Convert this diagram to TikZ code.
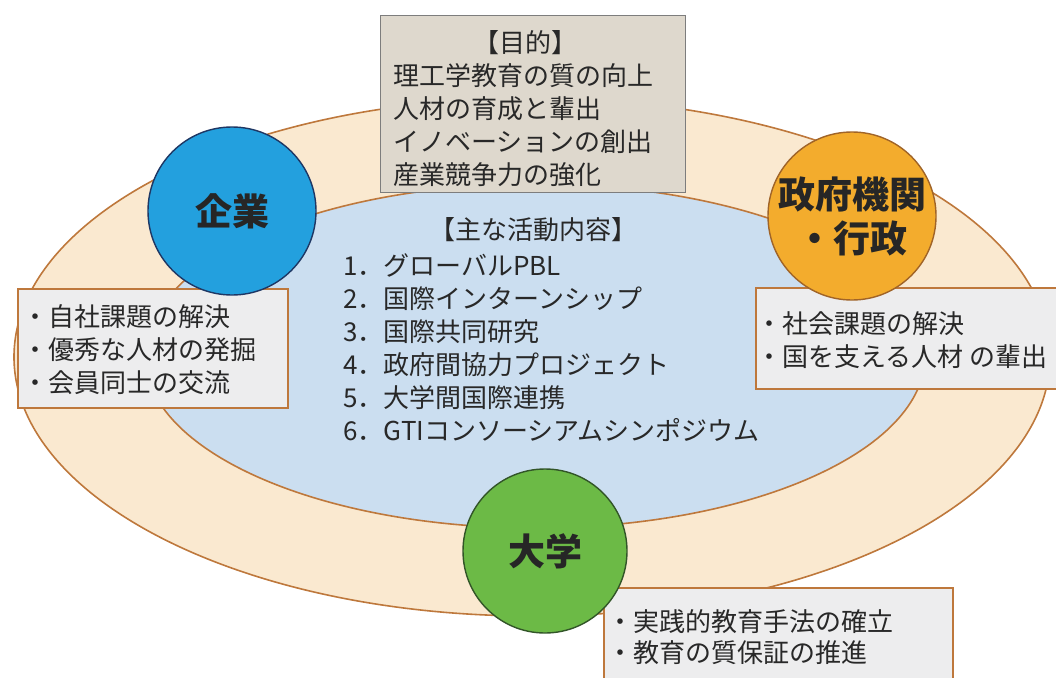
\documentclass[tikz,border=0pt]{standalone}
\usepackage{fontspec}
\setmainfont{Noto Sans CJK JP}
\usetikzlibrary{shapes.geometric}
\definecolor{ringfill}{RGB}{250,233,208}
\definecolor{ringline}{RGB}{190,120,60}
\definecolor{innerfill}{RGB}{203,222,240}
\definecolor{boxfill}{RGB}{237,237,238}
\definecolor{topfill}{RGB}{222,216,205}
\definecolor{topline}{RGB}{125,125,125}
\definecolor{txt}{RGB}{40,40,40}
\definecolor{bluec}{RGB}{35,160,222}
\definecolor{bluel}{RGB}{30,55,100}
\definecolor{orangec}{RGB}{243,172,45}
\definecolor{orangel}{RGB}{160,100,40}
\definecolor{greenc}{RGB}{108,186,70}
\definecolor{greenl}{RGB}{50,85,40}
\begin{document}
\begin{tikzpicture}[x=1pt,y=-1pt,
  ring/.style={ellipse, draw=ringline, line width=1.6pt, inner sep=0pt},
  actor/.style={circle, inner sep=0pt, minimum size=#1, line width=1.4pt,
    font=\fontsize{37}{44}\selectfont\bfseries, text=black!85, align=center},
  panel/.style={rectangle, draw=ringline, fill=boxfill, line width=1.8pt,
    anchor=north west, inner sep=0pt},
  paneltext/.style={anchor=west, align=left, inner sep=0pt, text=txt,
    font=\fontsize{26}{33}\selectfont},
]
\useasboundingbox (0,0) rectangle (1056,677);
% rings
\node[ring, fill=ringfill, minimum width=1036pt, minimum height=518pt] (outer) at (532,357) {};
\node[ring, fill=innerfill, minimum width=780pt, minimum height=344pt] (inner) at (535,356) {};
% goal box
\node[panel, draw=topline, fill=topfill, line width=1.2pt, minimum width=305pt, minimum height=177pt] (goalbox) at (380,15) {};
\node[paneltext, anchor=center, text width=265pt] (goaltext) at (525.5,108.5)
  {\makebox[265pt]{【目的】}\\理工学教育の質の向上\\人材の育成と輩出\\イノベーションの創出\\産業競争力の強化};
% activities
\node[paneltext, anchor=center] (acthead) at (533,230) {【主な活動内容】};
\node[paneltext] (actlist) at (343,347.5)
  {1．グローバルPBL\\2．国際インターンシップ\\3．国際共同研究\\4．政府間協力プロジェクト\\5．大学間国際連携\\6．GTIコンソーシアムシンポジウム};
% side panels
\node[panel, minimum width=270pt, minimum height=119pt] (corpbox) at (17,288) {};
\node[paneltext] (corptext) at (22.5,349.5) {・自社課題の解決\\・優秀な人材の発掘\\・会員同士の交流};
\node[panel, minimum width=320pt, minimum height=101pt] (govbox) at (755,287) {};
\node[paneltext] (govtext) at (756.5,340.5) {・社会課題の解決\\・国を支える人材 の輩出};
\node[panel, minimum width=349pt, minimum height=110pt] (univbox) at (603,587) {};
\node[paneltext, font=\fontsize{26}{31}\selectfont] (univtext) at (607.5,637.5) {・実践的教育手法の確立\\・教育の質保証の推進};
% actors
\node[actor=168pt, fill=bluec, draw=bluel] (corp) at (232,211) {企業};
\node[actor=168pt, fill=orangec, draw=orangel] (gov) at (852,216) {政府機関\\・行政};
\node[actor=164pt, fill=greenc, draw=greenl] (univ) at (545,551) {大学};
\end{tikzpicture}
\end{document}
